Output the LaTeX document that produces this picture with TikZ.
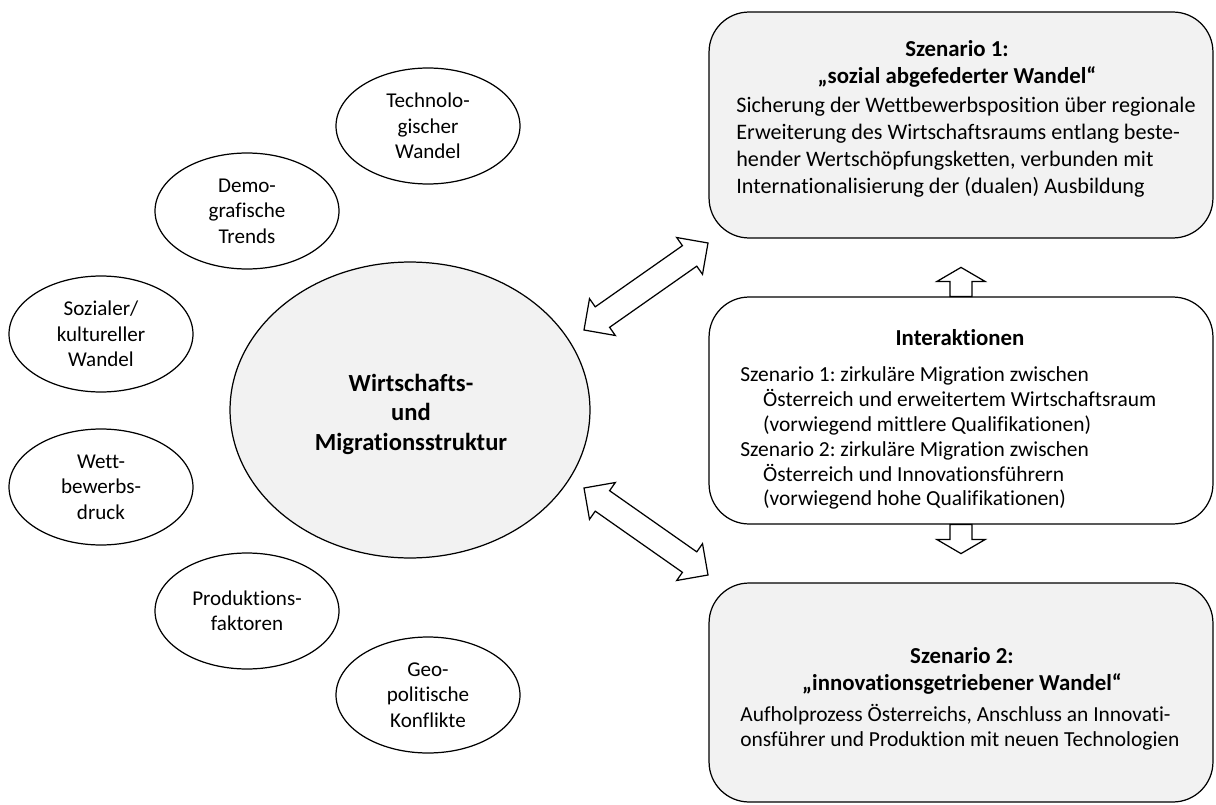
\documentclass[tikz,border=0pt]{standalone}
\usepackage{fontspec}
\setmainfont{Carlito}[Ligatures={TeX,NoCommon}]
\usetikzlibrary{shapes.geometric, positioning, calc}
\frenchspacing

\definecolor{boxgray}{HTML}{F2F2F2}

% block arrows between two named points
\newcommand{\dblarrow}[2]{%
  \draw[blockarrow] (#1)
    -- ($(#1)!0.45cm!(#2)!0.45cm!90:(#2)$)
    -- ($(#1)!0.45cm!(#2)!0.25cm!90:(#2)$)
    -- ($(#2)!0.45cm!(#1)!0.25cm!-90:(#1)$)
    -- ($(#2)!0.45cm!(#1)!0.45cm!-90:(#1)$)
    -- (#2)
    -- ($(#2)!0.45cm!(#1)!0.45cm!90:(#1)$)
    -- ($(#2)!0.45cm!(#1)!0.25cm!90:(#1)$)
    -- ($(#1)!0.45cm!(#2)!0.25cm!-90:(#2)$)
    -- ($(#1)!0.45cm!(#2)!0.45cm!-90:(#2)$)
    -- cycle;}
\newcommand{\blkarrow}[2]{%
  \draw[blockarrow] ($(#1)!0.22cm!90:(#2)$)
    -- ($(#2)!0.28cm!(#1)!0.22cm!-90:(#1)$)
    -- ($(#2)!0.28cm!(#1)!0.48cm!-90:(#1)$)
    -- (#2)
    -- ($(#2)!0.28cm!(#1)!0.48cm!90:(#1)$)
    -- ($(#2)!0.28cm!(#1)!0.22cm!90:(#1)$)
    -- ($(#1)!0.22cm!-90:(#2)$)
    -- cycle;}

\begin{document}
\begin{tikzpicture}[
    x=0.02cm, y=-0.02cm,
    factor/.style={ellipse, draw, line width=0.7pt, minimum width=3.68cm, minimum height=2.32cm,
      inner sep=0, align=center, font=\fontsize{12}{14.5}\selectfont},
    core/.style={ellipse, draw, line width=0.7pt, fill=boxgray, minimum width=7.2cm, minimum height=5.92cm,
      inner sep=0, align=center, font=\fontsize{14}{16.8}\selectfont\bfseries},
    scenario/.style={draw, line width=0.7pt, rounded corners=0.8cm, fill=boxgray,
      minimum width=10.08cm, minimum height=4.52cm, inner sep=0},
    title/.style={align=center, inner sep=0, font=\fontsize{13}{15.6}\selectfont\bfseries},
    body/.style={align=left, inner sep=0, font=\fontsize{12.2}{14.2}\selectfont},
    blockarrow/.style={draw, fill=white, line width=0.7pt, line join=miter}
    ]
    \useasboundingbox (0,0) rectangle (1216,804);

    % Factors
    \node[factor] (tech) at (428, 126) {Technolo-\\gischer\\Wandel};
    \node[factor] (demo) at (247, 211) {Demo-\\grafische\\Trends};
    \node[factor] (soz) at (101, 334) {Sozialer/\\kultureller\\Wandel};
    \node[factor] (wett) at (101, 487) {Wett-\\bewerbs-\\druck};
    \node[factor] (prod) at (247, 611) {Produktions-\\faktoren};
    \node[factor] (geo) at (428, 695) {Geo-\\politische\\Konflikte};

    % Structure
    \node[core] (wms) at (410, 410) {};
    \node[core, draw=none, fill=none, minimum size=0pt] (wmst) at (411, 414) {Wirtschafts-\\und\\Migrationsstruktur};

    % Scenario 1
    \node[scenario] (s1) at (961, 125) {};
    \node[title] (s1t) at (957, 64) {Szenario 1:\\„sozial abgefederter Wandel“};
    \node[body, anchor=west, font=\fontsize{12.6}{15.3}\selectfont] (s1b) at (736, 147) {Sicherung der Wettbewerbsposition über regionale\\
      Erweiterung des Wirtschaftsraums entlang beste-\\
      hender Wertschöpfungsketten, verbunden mit\\
      Internationalisierung der (dualen) Ausbildung};

    % Interaktionen
    \node[scenario, fill=white, minimum height=4.54cm] (ia) at (961, 410.5) {};
    \node[title] (iat) at (960, 338) {Interaktionen};
    \node[body, anchor=west] (iab) at (740, 438) {Szenario 1: zirkuläre Migration zwischen\\
      \hspace*{13pt}Österreich und erweitertem Wirtschaftsraum\\
      \hspace*{13pt}(vorwiegend mittlere Qualifikationen)\\
      Szenario 2: zirkuläre Migration zwischen\\
      \hspace*{13pt}Österreich und Innovationsführern\\
      \hspace*{13pt}(vorwiegend hohe Qualifikationen)};

    % Scenario 2
    \node[scenario, minimum height=4.38cm] (s2) at (961, 692.5) {};
    \node[title] (s2t) at (962, 671) {Szenario 2:\\„innovationsgetriebener Wandel“};
    \node[body, anchor=west] (s2b) at (740, 727) {Aufholprozess Österreichs, Anschluss an Innovati-\\
      onsführer und Produktion mit neuen Technologien};

    % Arrows
    \coordinate (d1a) at (584, 330);
    \coordinate (d1b) at (708, 243);
    \coordinate (d2a) at (584, 488);
    \coordinate (d2b) at (708, 575);
    \coordinate (up) at ($(ia.north)+(0,-29)$);
    \coordinate (dn) at ($(ia.south)+(0,29)$);

    \dblarrow{d1a}{d1b}
    \dblarrow{d2a}{d2b}
    \blkarrow{ia.north}{up}
    \blkarrow{ia.south}{dn}

\end{tikzpicture}
\end{document}
